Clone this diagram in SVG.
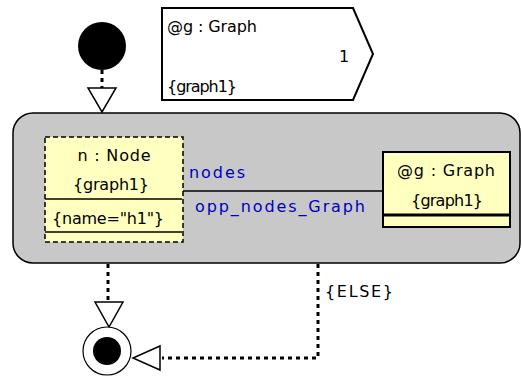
<svg xmlns="http://www.w3.org/2000/svg" width="522" height="377" viewBox="0 0 522 377">
<style>
text{font-family:"DejaVu Sans","Liberation Sans",sans-serif;font-size:16px;fill:#000}
.blue{fill:#0000c0}
.dot{fill:none;stroke:#000;stroke-width:3;stroke-dasharray:4 4}
.tri{fill:#fff;stroke:#000;stroke-width:1.5}
</style>
<rect width="522" height="377" fill="#fff"/>
<g id="frame">
<rect x="13" y="113" width="507" height="150" rx="20" ry="20" fill="#c8c8c8" stroke="#000" stroke-width="1.5"/>
</g>
<g id="connectors">
<line class="dot" x1="102" y1="70" x2="102" y2="88"/>
<polygon class="tri" points="88,88 116,88 102,112"/>
<line class="dot" x1="108" y1="264" x2="108" y2="302"/>
<polygon class="tri" points="95,302 123,302 109,327"/>
<polyline class="dot" points="318,264 318,358 162,358"/>
<polygon class="tri" points="160,346 160,370 133,358"/>
<text x="325" y="297" textLength="68" lengthAdjust="spacing">{ELSE}</text>
<line x1="183" y1="191" x2="383" y2="191" stroke="#333" stroke-width="2"/>
<text class="blue" x="189" y="178" textLength="56" lengthAdjust="spacing">nodes</text>
<text class="blue" x="195" y="212" textLength="170" lengthAdjust="spacing">opp_nodes_Graph</text>
</g>
<g id="start">
<circle cx="102" cy="46" r="24" fill="#000"/>
</g>
<g id="end">
<circle cx="107" cy="351" r="24" fill="#fff" stroke="#000" stroke-width="1.2"/>
<circle cx="107" cy="351" r="14" fill="#000"/>
</g>
<g id="graphSignal">
<polygon points="162,8 353,8 373,54 353,100 162,100" fill="#fff" stroke="#000" stroke-width="2"/>
<text x="167" y="32" textLength="90" lengthAdjust="spacing">@g : Graph</text>
<text x="339" y="62">1</text>
<text x="167" y="92" textLength="70" lengthAdjust="spacing">{graph1}</text>
</g>
<g id="nodeN">
<rect x="45" y="137" width="138" height="105" fill="#ffffc0" stroke="#000" stroke-width="1.5" stroke-dasharray="5 3"/>
<line x1="45" y1="199" x2="182" y2="199" stroke="#000" stroke-width="1.5"/>
<line x1="45" y1="232" x2="182" y2="232" stroke="#000" stroke-width="1.5"/>
<text x="114" y="161" text-anchor="middle" textLength="73" lengthAdjust="spacing">n : Node</text>
<text x="111" y="190" text-anchor="middle" textLength="76" lengthAdjust="spacing">{graph1}</text>
<text x="108" y="224" text-anchor="middle" textLength="112" lengthAdjust="spacing">{name="h1"}</text>
</g>
<g id="nodeG">
<rect x="383" y="152" width="127" height="75" fill="#ffffc0" stroke="#000" stroke-width="2"/>
<line x1="383" y1="215" x2="510" y2="215" stroke="#000" stroke-width="3"/>
<text x="446" y="176" text-anchor="middle" textLength="98" lengthAdjust="spacing">@g : Graph</text>
<text x="447" y="206" text-anchor="middle" textLength="72" lengthAdjust="spacing">{graph1}</text>
</g>
</svg>
